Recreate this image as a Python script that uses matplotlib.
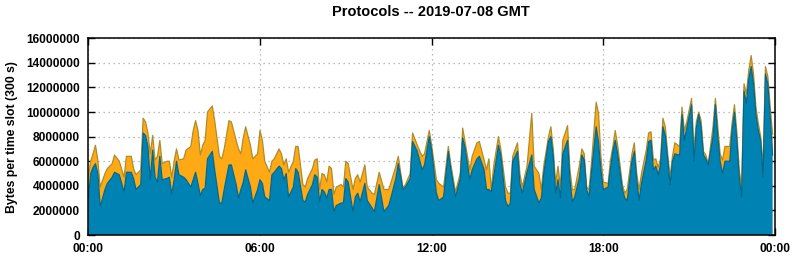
import matplotlib

matplotlib.use("Agg")
import matplotlib.pyplot as plt
import numpy as np

# 5-minute slot index (0..287) where each reading was taken
slot = [0, 1, 2, 3, 4, 5, 7, 8, 10, 11, 13, 15, 16, 18, 19, 20, 21, 22, 23, 24,
        25, 26, 27, 28, 29, 30, 31, 33, 34, 35, 36, 37, 38, 40, 41, 43, 44, 45, 46, 47,
        48, 49, 50, 52, 53, 55, 56, 57, 59, 60, 62, 63, 64, 65, 66, 68, 69, 71, 72, 73,
        74, 76, 77, 78, 80, 81, 82, 83, 84, 86, 87, 88, 90, 91, 92, 94, 95, 96, 97, 98,
        99, 100, 101, 102, 103, 104, 106, 107, 108, 109, 111, 112, 113, 114, 116, 117, 119, 120, 122, 124,
        126, 127, 129, 130, 132, 133, 135, 136, 138, 140, 141, 143, 144, 146, 147, 149, 151, 152, 154, 156,
        157, 158, 160, 161, 163, 164, 166, 167, 168, 169, 170, 172, 173, 175, 176, 177, 178, 180, 181, 182,
        184, 186, 187, 189, 190, 191, 193, 194, 195, 196, 197, 198, 199, 201, 202, 203, 204, 206, 207, 208,
        209, 210, 211, 213, 214, 215, 216, 218, 219, 220, 221, 222, 224, 225, 226, 228, 229, 230, 231, 232,
        234, 235, 236, 237, 238, 239, 240, 241, 242, 243, 244, 245, 246, 248, 249, 250, 251, 253, 254, 255,
        256, 257, 258, 259, 260, 262, 263, 264, 265, 266, 267, 269, 270, 271, 272, 273, 274, 275, 276, 277,
        278, 279, 280, 281, 282, 283, 284, 285, 286, 287]

# top of the stack (both protocols), millions of bytes per slot
total_mb = [4.8, 6.0, 6.6, 7.3, 6.1, 3.9, 5.0, 5.4, 5.8, 6.5, 6.0, 4.7, 6.4, 6.4, 5.4, 4.9, 5.1, 5.3, 9.5, 9.2,
            8.3, 6.6, 8.1, 6.1, 6.4, 7.7, 5.8, 6.0, 6.0, 4.7, 6.0, 7.0, 6.1, 6.2, 6.9, 7.2, 8.5, 9.3, 8.5, 6.5,
            7.3, 7.7, 10.0, 10.5, 9.3, 6.4, 6.2, 7.0, 9.3, 9.2, 7.7, 7.0, 6.6, 7.9, 8.8, 7.3, 6.2, 6.6, 8.5, 7.7,
            6.0, 5.1, 6.0, 6.2, 7.0, 6.6, 5.7, 6.2, 5.1, 6.0, 7.2, 7.2, 4.1, 3.9, 4.6, 5.4, 6.1, 6.2, 3.7, 5.0,
            4.9, 4.3, 5.6, 5.4, 3.3, 3.9, 4.1, 3.9, 6.0, 5.8, 3.7, 4.6, 4.9, 4.3, 5.7, 3.9, 3.4, 3.3, 5.1, 3.7,
            3.7, 4.3, 5.6, 6.4, 3.8, 4.1, 5.0, 8.3, 7.3, 6.4, 6.6, 8.5, 7.3, 4.5, 4.2, 3.9, 7.2, 5.8, 3.5, 5.0,
            8.7, 7.6, 5.3, 6.4, 7.5, 7.6, 6.1, 5.3, 6.2, 3.7, 5.6, 8.0, 7.0, 3.9, 3.4, 3.4, 6.4, 7.5, 5.0, 3.9,
            5.6, 9.9, 5.6, 5.0, 3.7, 5.6, 8.0, 8.8, 7.0, 4.2, 5.6, 3.9, 7.7, 8.9, 5.3, 3.7, 3.7, 5.7, 7.0, 6.6,
            3.9, 3.7, 5.8, 10.8, 9.9, 6.4, 4.3, 4.2, 6.1, 7.2, 8.5, 7.3, 4.1, 3.4, 3.7, 6.6, 7.5, 5.0, 3.7, 5.0,
            6.9, 8.3, 8.4, 6.1, 6.2, 5.5, 6.2, 9.5, 8.8, 6.6, 4.7, 6.4, 7.5, 7.2, 10.4, 8.5, 9.2, 11.1, 6.9, 9.2,
            10.0, 9.3, 6.8, 6.5, 5.8, 8.8, 11.1, 8.8, 6.6, 6.1, 7.2, 7.2, 9.1, 10.6, 8.4, 5.3, 3.9, 12.3, 11.5, 13.4,
            14.6, 13.1, 10.4, 9.1, 8.0, 5.6, 13.7, 12.9, 10.4, 8.2]

# lower (blue) protocol, millions of bytes per slot
blue_mb = [3.0, 5.0, 5.5, 5.8, 5.0, 2.3, 3.7, 4.2, 4.7, 5.1, 4.9, 3.5, 5.1, 5.1, 4.6, 3.7, 3.9, 4.1, 8.3, 8.1,
           7.2, 4.5, 6.9, 4.7, 4.3, 6.4, 4.5, 4.6, 4.7, 3.3, 4.5, 6.0, 4.9, 4.7, 4.5, 3.9, 4.5, 5.1, 4.2, 3.2,
           3.7, 3.8, 6.2, 6.8, 5.3, 2.6, 2.6, 3.7, 5.7, 5.7, 4.1, 3.0, 3.7, 4.3, 5.3, 3.9, 2.6, 3.7, 4.5, 4.2,
           3.1, 2.8, 4.9, 5.1, 5.6, 5.4, 4.5, 5.0, 3.1, 3.9, 5.4, 5.1, 2.8, 2.7, 3.3, 4.1, 4.9, 4.7, 2.7, 3.7,
           3.5, 3.0, 3.7, 3.7, 1.9, 2.4, 2.6, 2.6, 4.6, 4.3, 1.9, 3.1, 3.4, 2.7, 4.2, 2.8, 2.2, 1.9, 4.1, 1.9,
           2.4, 3.1, 4.6, 5.8, 3.7, 3.9, 4.6, 7.6, 6.8, 5.3, 5.7, 8.0, 6.9, 3.4, 2.8, 3.1, 6.8, 5.4, 3.1, 4.6,
           7.9, 7.1, 4.5, 5.3, 6.2, 6.4, 5.3, 3.7, 3.7, 3.5, 4.7, 7.3, 6.5, 2.8, 2.3, 2.6, 6.0, 6.8, 4.2, 3.4,
           5.1, 6.5, 3.7, 2.6, 3.0, 5.0, 7.6, 8.0, 6.4, 3.4, 4.5, 3.0, 6.6, 7.7, 4.5, 2.7, 3.1, 4.7, 6.5, 6.1,
           3.7, 3.1, 5.1, 8.8, 7.5, 5.3, 3.7, 3.9, 5.4, 6.8, 7.7, 6.6, 3.7, 3.0, 2.8, 6.0, 6.8, 4.5, 2.8, 4.2,
           6.1, 7.6, 7.7, 5.3, 5.6, 4.9, 5.7, 8.8, 8.1, 6.2, 4.1, 6.0, 6.6, 6.5, 9.8, 7.7, 8.7, 10.6, 6.0, 8.7,
           9.8, 8.8, 6.5, 6.2, 5.7, 8.0, 10.6, 8.0, 6.0, 5.0, 6.0, 6.0, 8.5, 10.0, 7.7, 4.7, 3.1, 11.7, 10.7, 12.7,
           13.7, 12.3, 9.8, 8.5, 7.7, 4.7, 13.1, 12.3, 9.6, 6.5]

x_ticks = [0, 6, 12, 18, 24]
x_labels = ["00:00", "06:00", "12:00", "18:00", "00:00"]
y_ticks = list(range(0, 16000001, 2000000))

assert len(slot) == len(total_mb) == len(blue_mb)

plt.rcParams["font.family"] = ["Liberation Sans", "DejaVu Sans"]
plt.rcParams["font.weight"] = "bold"

hours = np.array(slot) * 300 / 3600.0
blue = np.array(blue_mb) * 1e6
orange = (np.array(total_mb) - np.array(blue_mb)) * 1e6

fig = plt.figure(figsize=(7.95, 2.6), dpi=100)
ax = fig.add_axes([88.3 / 795, 1 - 235 / 260, (775 - 88.3) / 795, (235 - 38.3) / 260])

ax.stackplot(hours, blue, orange, colors=["#0083b3", "#ffaa14"], zorder=2)
ax.plot(hours, blue + orange, color="#b08c28", lw=0.9, zorder=3)
ax.plot(hours, blue, color="#00688f", lw=0.9, zorder=3)

ax.set_xlim(0, 24)
ax.set_ylim(0, 16000000)
ax.set_xticks(x_ticks)
ax.set_xticklabels(x_labels)
ax.set_yticks(y_ticks)
ax.set_yticklabels([str(v) for v in y_ticks])
ax.tick_params(direction="in", length=5, width=1, top=True, right=True,
               labelsize=8.6, pad=6, colors="black")
ax.grid(True, color="#a8a8a8", linestyle=(0, (1, 3)), lw=0.9, zorder=1)
for s in ax.spines.values():
    s.set_linewidth(1.1)
    s.set_zorder(4)

ax.set_ylabel("Bytes per time slot (300 s)", fontsize=8.8, fontweight="bold", labelpad=6)
fig.text(431 / 795, 1 - 12 / 260, "Protocols -- 2019-07-08 GMT", ha="center", va="center",
         fontsize=10.5, fontweight="bold")

fig.savefig("out.png", dpi=100)
